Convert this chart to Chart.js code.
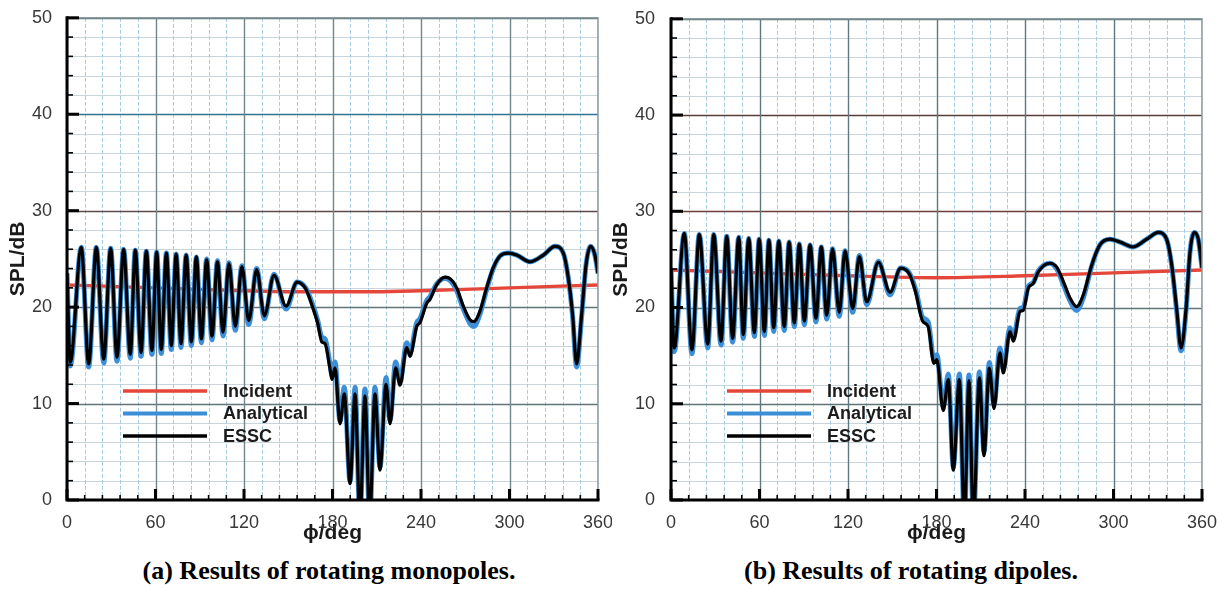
<!DOCTYPE html>
<html><head><meta charset="utf-8">
<script src="https://cdn.jsdelivr.net/npm/chart.js@4/dist/chart.umd.min.js"></script>
<style>
html,body{margin:0;padding:0;background:#fff;}
body{width:1224px;height:590px;position:relative;overflow:hidden;}
.wrap{position:absolute;top:0;height:550px;}
#wrapA{left:0;width:612px;}
#wrapB{left:600px;width:624px;}
.cap{position:absolute;top:556px;font-family:"Liberation Serif","Times New Roman",serif;font-weight:bold;font-size:26px;color:#000;white-space:nowrap;transform:translateX(-50%);line-height:30px;}
</style></head>
<body>
<div class="wrap" id="wrapA"><canvas id="cA" width="612" height="550" style="width:612px;height:550px"></canvas></div>
<div class="wrap" id="wrapB"><canvas id="cB" width="624" height="550" style="width:624px;height:550px"></canvas></div>
<div class="cap" style="left:329px">(a) Results of rotating monopoles.</div>
<div class="cap" style="left:911px">(b) Results of rotating dipoles.</div>
<script>
// ---------------- DATA ----------------
const xTickLabels = [0, 60, 120, 180, 240, 300, 360];
const yTickLabels = [0, 10, 20, 30, 40, 50];
const seriesNames = ['Incident', 'Analytical', 'ESSC'];

// (a) rotating monopoles
const monoAngles = [0,2.2,9.7,14.7,19.9,24.9,29.6,33.9,38.4,42.9,46.3,50.2,53.8,57.6,60.8,63.9,67.4,70.7,74.0,77.3,80.8,84.3,87.7,91.1,94.7,98.3,102.0,105.8,109.8,114.1,118.6,123.2,128.6,133.8,140.3,148.5,156.0,161.8,166.5,170.0,172.7,175.0,178.3,179.6,181.7,185.1,188.0,191.9,195.3,198.6,202.0,205.2,208.8,212.2,216.3,219.0,222.8,225.8,230.3,232.5,237.1,239.3,243.9,246.1,250.6,256.3,260.8,264.2,268.7,273.2,275.9,280.0,284.5,289.0,293.6,299.2,304.9,313.9,323.0,330.8,336.5,339.9,342.8,345.5,348.9,351.9,355.0,357.9,360];
const monoESSC = [23.5,14.3,26.2,14.1,26.2,14.6,26.1,14.8,26.0,15.1,25.9,15.3,25.8,15.5,25.7,15.6,25.6,16.0,25.5,16.2,25.4,16.4,25.2,16.7,24.9,17.0,24.7,17.4,24.5,18.0,24.2,18.6,23.9,19.1,23.3,20.1,22.6,21.9,20.0,18.3,16.4,16.2,13.6,12.5,13.7,7.9,11.0,1.7,11.0,-2,10.8,-2,11.0,3.1,12.0,7.9,13.7,11.9,15.8,14.9,18.0,18.4,20.4,20.8,22.3,23.1,22.8,22.0,20.1,18.7,18.5,19.6,22.0,24.1,25.3,25.6,25.4,24.7,25.4,26.3,25.6,23.0,19.2,14.1,19.2,24.4,26.3,25.4,23.5];
const monoAnalytical = [23.5,13.9,26.2,13.8,26.2,14.2,26.1,14.4,26.0,14.7,25.9,14.9,25.8,15.1,25.7,15.2,25.6,15.6,25.5,15.8,25.4,16.0,25.2,16.3,25.0,16.6,24.8,17.0,24.6,17.6,24.3,18.2,24.0,18.8,23.4,19.8,22.6,22.0,20.3,18.6,16.9,16.7,14.1,13.0,14.3,8.2,11.7,1.9,11.7,-2,11.5,-2,11.7,3.4,12.7,8.3,14.3,12.3,16.3,15.3,18.4,18.8,20.7,21.1,22.4,23.0,22.6,21.7,19.8,18.3,18.0,19.3,21.8,24.0,25.3,25.6,25.4,24.7,25.4,26.3,25.6,23.0,19.0,13.8,19.0,24.4,26.3,25.4,23.5];
const monoIncAngles = [0,60,120,150,180,210,240,300,360];
const monoIncident = [22.3,22.0,21.7,21.6,21.6,21.6,21.7,22.0,22.3];

// (b) rotating dipoles
const dipAngles = [0,2.2,9.0,14.2,19.2,24.9,29.0,33.9,37.8,41.8,45.9,49.0,52.7,56.5,59.8,63.3,66.4,69.6,73.1,76.8,80.1,83.6,87.0,90.4,94.3,98.3,101.9,105.6,109.5,114.1,118.0,123.2,127.7,132.7,140.6,148.5,155.7,161.5,166.0,170.5,174.4,178.2,180.2,184.6,188.0,191.4,195.5,198.9,202.0,205.0,209.1,212.2,215.8,219.0,223.0,225.3,229.8,232.1,236.6,238.8,242.2,245.6,249.0,256.9,261.5,266.0,270.5,275.0,279.5,285.2,290.8,297.6,304.4,313.4,322.5,330.4,336.0,339.5,342.8,345.8,349.2,351.9,354.8,357.6,360];
const dipESSC = [24.1,15.8,27.7,15.6,27.6,16.2,27.6,16.5,27.4,16.8,27.3,17.2,27.2,17.4,27.1,17.5,27.0,17.9,26.9,18.0,26.8,18.4,26.6,18.6,26.5,18.9,26.3,19.2,26.1,19.5,25.9,19.9,25.3,20.6,24.7,21.6,24.1,23.5,21.5,18.6,18.0,14.2,14.6,9.3,12.5,3.1,12.5,-2,12.4,-2,12.7,4.6,13.7,9.5,15.3,13.2,17.5,16.5,19.6,19.7,22.0,22.5,23.7,24.6,24.2,22.7,21.0,20.1,21.3,24.4,26.5,27.1,26.8,26.3,27.1,27.8,27.1,24.4,19.9,15.8,19.9,25.8,27.8,27.0,24.1];
const dipAnalytical = [24.1,15.4,27.7,15.2,27.6,15.8,27.6,16.1,27.4,16.4,27.3,16.8,27.2,17.0,27.1,17.1,27.0,17.5,26.9,17.6,26.8,18.0,26.6,18.2,26.5,18.5,26.3,18.8,26.1,19.1,25.9,19.5,25.4,20.3,24.8,21.3,24.1,23.6,21.8,19.0,18.5,14.7,15.1,9.7,13.1,3.4,13.1,-2,13.0,-2,13.3,5.0,14.3,9.9,15.8,13.6,17.9,16.9,19.9,20.0,22.2,22.6,23.8,24.6,24.0,22.4,20.7,19.7,21.0,24.3,26.5,27.1,26.8,26.3,27.1,27.8,27.1,24.3,19.7,15.5,19.7,25.8,27.8,27.0,24.1];
const dipIncAngles = [0,60,120,180,240,300,360];
const dipIncident = [23.9,23.6,23.3,23.1,23.3,23.6,23.9];

// ---------------- STYLE ----------------
const FONT = '"Liberation Sans", Arial, Helvetica, sans-serif';
const RED = '#e4473a', BLUE = '#3c8fd6', BLACK = '#000000';
Chart.defaults.font.family = FONT;

function pts(xs, ys) { return xs.map((x, i) => ({x: x, y: ys[i]})); }

const framePlugin = {
  id: 'frame',
  beforeDatasetsDraw(chart, args, o) {
    const {ctx, chartArea: a, scales: {x, y}} = chart;
    ctx.save();
    ctx.beginPath(); ctx.rect(a.left, a.top, a.right - a.left, a.bottom - a.top); ctx.clip();
    y.ticks.forEach(t => {
      if (t.value % 10 === 0) return;
      const py = Math.round(y.getPixelForValue(t.value)) + 0.5;
      ctx.strokeStyle = '#c9d5dd'; ctx.lineWidth = 1; ctx.setLineDash([]);
      ctx.beginPath(); ctx.moveTo(a.left, py); ctx.lineTo(a.right, py); ctx.stroke();
    });
    x.ticks.forEach(t => {
      if (t.value % 60 === 0) return;
      const px = Math.round(x.getPixelForValue(t.value)) + 0.5;
      ctx.strokeStyle = '#a6cbe0'; ctx.lineWidth = 1; ctx.setLineDash([4, 2]);
      ctx.beginPath(); ctx.moveTo(px, a.top); ctx.lineTo(px, a.bottom); ctx.stroke();
    });
    ctx.setLineDash([]);
    y.ticks.forEach(t => {
      if (t.value % 10 !== 0) return;
      const py = Math.round(y.getPixelForValue(t.value)) + 0.5;
      ctx.strokeStyle = (o.hMajor && o.hMajor[t.value]) || '#5f7378'; ctx.lineWidth = 1.4;
      ctx.beginPath(); ctx.moveTo(a.left, py); ctx.lineTo(a.right, py); ctx.stroke();
    });
    x.ticks.forEach(t => {
      if (t.value % 60 !== 0) return;
      const px = Math.round(x.getPixelForValue(t.value)) + 0.5;
      ctx.strokeStyle = o.vMajor || '#6e8186'; ctx.lineWidth = 1.4;
      ctx.beginPath(); ctx.moveTo(px, a.top); ctx.lineTo(px, a.bottom); ctx.stroke();
    });
    ctx.restore();
  },
  afterDraw(chart, args, o) {
    const {ctx, chartArea: a, scales: {x, y}} = chart;
    ctx.save();
    ctx.strokeStyle = '#8a9ba1'; ctx.lineWidth = 1.5;
    ctx.beginPath(); ctx.moveTo(a.left, a.top); ctx.lineTo(a.right, a.top); ctx.lineTo(a.right, a.bottom); ctx.stroke();
    ctx.strokeStyle = '#000';
    y.ticks.forEach(t => {
      const major = t.value % 10 === 0;
      const py = y.getPixelForValue(t.value);
      ctx.lineWidth = major ? 3 : 1.6;
      ctx.beginPath(); ctx.moveTo(a.left, py); ctx.lineTo(a.left + (major ? 12 : 6), py); ctx.stroke();
    });
    x.ticks.forEach(t => {
      const major = t.value % 60 === 0;
      const px = x.getPixelForValue(t.value);
      ctx.lineWidth = major ? 3 : 1.6;
      ctx.beginPath(); ctx.moveTo(px, a.bottom); ctx.lineTo(px, a.bottom - (major ? 11 : 5)); ctx.stroke();
    });
    ctx.lineWidth = 3; ctx.lineCap = 'square';
    ctx.beginPath(); ctx.moveTo(a.left, a.top); ctx.lineTo(a.left, a.bottom); ctx.lineTo(a.right, a.bottom); ctx.stroke();
    ctx.lineCap = 'butt';
    const cols = [RED, BLUE, BLACK];
    const widths = [3.4, 4.2, 3.4];
    const rows = [391, 413.5, 436];
    ctx.font = 'bold 18px ' + FONT; ctx.textBaseline = 'middle'; ctx.textAlign = 'left';
    seriesNames.forEach((n, i) => {
      ctx.strokeStyle = cols[i]; ctx.lineWidth = widths[i];
      ctx.beginPath(); ctx.moveTo(a.left + 56, rows[i]); ctx.lineTo(a.left + 140, rows[i]); ctx.stroke();
      ctx.fillStyle = '#1c1c1c';
      ctx.fillText(n, a.left + 156, rows[i] + 1);
    });
    ctx.restore();
  }
};

function makeChart(id, p) {
  return new Chart(document.getElementById(id), {
    type: 'line',
    data: {
      datasets: [
        {label: seriesNames[2], data: pts(p.angles, p.essc), borderColor: BLACK, borderWidth: 3.2, pointRadius: 0, cubicInterpolationMode: 'monotone', clip: 0},
        {label: seriesNames[1], data: pts(p.angles, p.analytical), borderColor: BLUE, borderWidth: 5, pointRadius: 0, cubicInterpolationMode: 'monotone', clip: 0},
        {label: seriesNames[0], data: pts(p.incAngles, p.incident), borderColor: RED, borderWidth: 3.4, pointRadius: 0, cubicInterpolationMode: 'monotone', clip: 0}
      ]
    },
    options: {
      responsive: false, animation: false, devicePixelRatio: 1,
      layout: {padding: {left: 0, right: p.padRight, top: 15, bottom: 0}},
      plugins: {legend: {display: false}, tooltip: {enabled: false}, frame: {hMajor: p.hMajor, vMajor: p.vMajor}},
      scales: {
        x: {
          type: 'linear', min: 0, max: 360,
          grid: {display: false}, border: {display: false},
          ticks: {stepSize: 12, autoSkip: false, maxRotation: 0, padding: 4, color: '#383838', font: {size: 18},
                  callback: v => xTickLabels.includes(v) ? String(v) : ''},
          title: {display: true, text: 'ϕ/deg', color: '#1a1a1a', font: {size: 21, weight: 'bold'}, padding: {top: 0, bottom: 4}},
          afterFit: s => { s.height = 50; s.paddingLeft = 0; s.paddingRight = 0; }
        },
        y: {
          type: 'linear', min: 0, max: 50,
          grid: {display: false}, border: {display: false},
          ticks: {stepSize: 2, autoSkip: false, padding: p.yTickPad, color: '#383838', font: {size: 18},
                  callback: v => yTickLabels.includes(v) ? String(v) : ''},
          title: {display: true, text: 'SPL/dB', color: '#1a1a1a', font: {size: 21, weight: 'bold'}, padding: {top: p.yTitlePad, bottom: 0}},
          afterFit: s => { s.width = p.yWidth; }
        }
      }
    },
    plugins: [framePlugin]
  });
}

makeChart('cA', {angles: monoAngles, essc: monoESSC, analytical: monoAnalytical, incAngles: monoIncAngles, incident: monoIncident,
  yWidth: 67, padRight: 14, yTitlePad: 6, yTickPad: 7,
  hMajor: {40: '#2f7392', 30: '#5e4a48'}, vMajor: '#72858a'});
makeChart('cB', {angles: dipAngles, essc: dipESSC, analytical: dipAnalytical, incAngles: dipIncAngles, incident: dipIncident,
  yWidth: 71, padRight: 22, yTitlePad: 9, yTickPad: 8,
  hMajor: {40: '#5a3c36', 30: '#6a3f38'}, vMajor: '#5d7880'});
</script>
</body></html>
